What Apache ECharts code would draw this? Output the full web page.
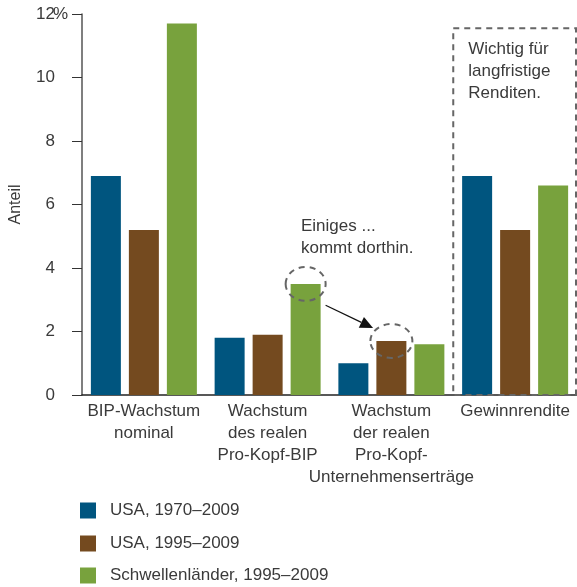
<!DOCTYPE html>
<html>
<head>
<meta charset="utf-8">
<script src="https://cdn.jsdelivr.net/npm/echarts@6/dist/echarts.min.js"></script>
<style>
  html, body { margin: 0; padding: 0; background: #fff; }
  #chart { width: 577px; height: 587px; }
</style>
</head>
<body>
<div id="chart"></div>
<script>
// Kategorien und Werte (Anteil in %)
const categories = [
  'BIP-Wachstum\nnominal',
  'Wachstum\ndes realen\nPro-Kopf-BIP',
  'Wachstum\nder realen\nPro-Kopf-\nUnternehmenserträge',
  'Gewinnrendite'
];
const usa1970 = [6.9, 1.8, 1.0, 6.9];
const usa1995 = [5.2, 1.9, 1.7, 5.2];
const emerging1995 = [11.7, 3.5, 1.6, 6.6];
const seriesNames = ['USA, 1970–2009', 'USA, 1995–2009', 'Schwellenländer, 1995–2009'];
const yTicks = [0, 2, 4, 6, 8, 10, 12];

const colors = ['#00557f', '#744a1f', '#78a23d'];
const textColor = '#3a3a3a';
const font = '"Liberation Sans", Arial, sans-serif';
const FS = 17;
const BAR_W = 30, BAR_GAP = 8;
const GRID_LEFT = 80, LABEL_MARGIN = 27;

const chart = echarts.init(document.getElementById('chart'));

function barSeries(name, data, color) {
  return {
    name, type: 'bar', data,
    barWidth: BAR_W, barGap: (BAR_GAP / BAR_W * 100) + '%',
    itemStyle: { color }
  };
}

// eine Legende je Reihe, untereinander
const legendTops = [502, 535, 567];
const legends = seriesNames.map((n, i) => ({
  left: GRID_LEFT, top: legendTops[i], padding: 0,
  itemWidth: 16, itemHeight: 16, icon: 'rect',
  textStyle: { fontSize: FS, color: textColor, fontFamily: font, padding: [0, 0, 0, 9] },
  data: [n]
}));

chart.setOption({
  animation: false,
  textStyle: { fontFamily: font },
  grid: { left: GRID_LEFT, right: 0, top: 14, bottom: 192 },
  legend: legends,
  xAxis: {
    type: 'category', data: categories,
    axisLine: { lineStyle: { color: '#222', width: 1.5 } },
    axisTick: { inside: true, length: 10, lineStyle: { color: '#222' } },
    axisLabel: { fontSize: FS, color: textColor, lineHeight: 22, margin: 5, interval: 0 }
  },
  yAxis: {
    type: 'value', min: 0, max: 12, interval: 2,
    name: 'Anteil', nameLocation: 'middle', nameGap: 58, nameRotate: 90,
    nameTextStyle: { fontSize: 16, color: textColor },
    splitLine: { show: false },
    axisLine: { show: true, lineStyle: { color: '#555', width: 1.5 } },
    axisTick: { show: true, length: 10, lineStyle: { color: '#333' } },
    axisLabel: {
      fontSize: FS, color: textColor, margin: LABEL_MARGIN,
      formatter: v => yTicks.includes(v) ? String(v) : ''
    }
  },
  series: [
    barSeries(seriesNames[0], usa1970, colors[0]),
    barSeries(seriesNames[1], usa1995, colors[1]),
    barSeries(seriesNames[2], emerging1995, colors[2])
  ]
});

// Anmerkungen: gestrichelter Kasten, Kreise und Pfeil, an Achsenwerten verankert
function px(cat, val) { return chart.convertToPixel({ xAxisIndex: 0, yAxisIndex: 0 }, [cat, val]); }
const band = px(1, 0)[0] - px(0, 0)[0];
const offset = BAR_W + BAR_GAP;
const zeroY = px(0, 0)[1];
const topTickY = chart.convertToPixel({ yAxisIndex: 0 }, yTicks[yTicks.length - 1]);

const boxLeft = px(3, 0)[0] - band / 2;
const boxRight = px(3, 0)[0] + band / 2 - 1;
const boxTop = px(3, 11.55)[1];

const c1 = px(1, emerging1995[1]); c1[0] += offset;
const c2 = px(2, usa1995[2]);

const dash = { stroke: '#666', lineWidth: 2, lineDash: [6, 5], fill: null };
const ang = Math.atan2(c2[1] - c1[1], c2[0] - c1[0]);
const start = [c1[0] + 24 * Math.cos(ang), c1[1] + 8 + 24 * Math.sin(ang)];
const tip = [c2[0] - 22 * Math.cos(ang), c2[1] - 13];
const a2 = Math.atan2(tip[1] - start[1], tip[0] - start[0]);
const head = 13, hw = 6;
const hb = [tip[0] - head * Math.cos(a2), tip[1] - head * Math.sin(a2)];
const perp = [-Math.sin(a2) * hw, Math.cos(a2) * hw];

chart.setOption({
  graphic: [
    // Prozentzeichen hinter der obersten Skalenzahl
    { type: 'text', x: GRID_LEFT - LABEL_MARGIN, y: topTickY,
      style: { text: '%', font: FS + 'px ' + font, fill: textColor, align: 'left', verticalAlign: 'middle' } },
    { type: 'rect', shape: { x: boxLeft, y: boxTop, width: boxRight - boxLeft, height: zeroY - boxTop },
      style: dash, z: 10 },
    { type: 'text', left: boxLeft + 15, top: boxTop + 10,
      style: { text: 'Wichtig für\nlangfristige\nRenditen.', font: FS + 'px ' + font, fill: textColor, lineHeight: 22 } },
    { type: 'text', left: 301, top: px(1, 5.67)[1],
      style: { text: 'Einiges ...\nkommt dorthin.', font: FS + 'px ' + font, fill: textColor, lineHeight: 22 } },
    { type: 'ellipse', shape: { cx: c1[0], cy: c1[1], rx: 20, ry: 17 }, style: dash, z: 10 },
    { type: 'ellipse', shape: { cx: c2[0], cy: c2[1], rx: 21, ry: 17 }, style: dash, z: 10 },
    { type: 'line', shape: { x1: start[0], y1: start[1], x2: hb[0], y2: hb[1] },
      style: { stroke: '#111', lineWidth: 1.2 }, z: 10 },
    { type: 'polygon', shape: { points: [tip, [hb[0] + perp[0], hb[1] + perp[1]], [hb[0] - perp[0], hb[1] - perp[1]]] },
      style: { fill: '#111' }, z: 10 }
  ]
});
</script>
</body>
</html>
